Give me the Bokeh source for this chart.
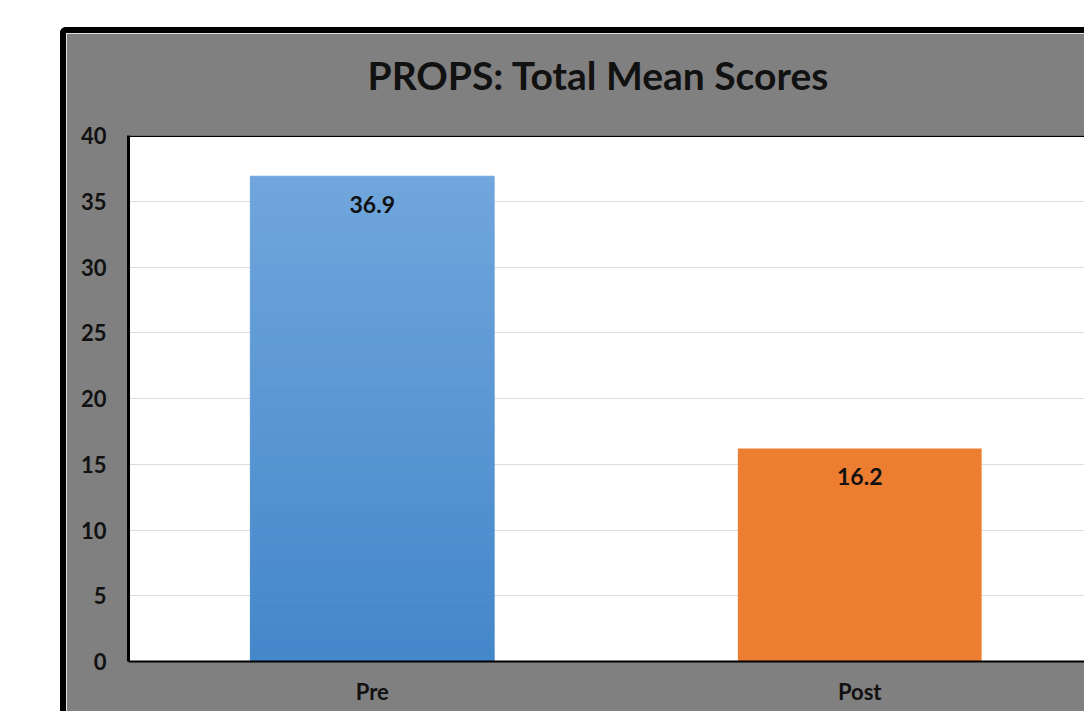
from bokeh.plotting import figure
from bokeh.models import Range1d, FixedTicker, Span, ColumnDataSource, Title
from bokeh.core.properties import value
from bokeh.embed import file_html
from bokeh.resources import INLINE

# ---- data ----
categories = ["Pre", "Post"]
means = [36.9, 16.2]
value_labels = ["36.9", "16.2"]
y_ticks = [0, 5, 10, 15, 20, 25, 30, 35, 40]
title_text = "PROPS: Total Mean Scores"

FONT = "Lato"
GRAY = "#808080"

x_pos = [i + 0.5 for i in range(len(categories))]

p = figure(width=1024, height=684, output_backend="svg", toolbar_location=None,
           x_range=Range1d(0, 1.9733), y_range=Range1d(0, 40),
           min_border_left=62, min_border_right=0, min_border_top=102,
           min_border_bottom=56)
p.margin = (27, 0, 0, 60)
p.styles = {"border-top": "6px solid black", "border-left": "6px solid black",
            "border-top-left-radius": "6px"}
p.border_fill_color = GRAY
p.background_fill_color = "white"
p.outline_line_color = None

# spacer between frame and title, then the title itself
p.title = None
p.add_layout(Title(text=" ", text_font_size="26px", standoff=6,
                   border_line_color=None), "above")
p.add_layout(Title(text=title_text, align="left", offset=239, text_font=FONT,
                   text_font_size="39px", text_font_style="bold",
                   text_color="#111111", standoff=0), "above")

# Pre bar: vertical gradient built from strips of the bar's value
def lerp(c1, c2, t):
    a = [int(c1[i:i + 2], 16) for i in (1, 3, 5)]
    b = [int(c2[i:i + 2], 16) for i in (1, 3, 5)]
    return "#%02x%02x%02x" % tuple(round(a[k] + (b[k] - a[k]) * t) for k in range(3))

n = 80
strip_b, strip_t, strip_c = [], [], []
for i in range(n):
    strip_b.append(means[0] * i / n)
    strip_t.append(means[0] * (i + 1) / n)
    strip_c.append(lerp("#4487ca", "#70a6dc", (i + 0.5) / n))
p.quad(left=[x_pos[0] - 0.25] * n, right=[x_pos[0] + 0.25] * n,
       bottom=strip_b, top=strip_t, fill_color=strip_c, line_color=strip_c,
       line_width=1)

# Post bar
p.vbar(x=[x_pos[1]], top=[means[1]], width=0.5, fill_color="#ed7d31", line_color=None)

src = ColumnDataSource(dict(x=x_pos, y=means, t=value_labels))
p.text(x="x", y="y", text="t", source=src, text_align="center", text_baseline="middle",
       y_offset=28, text_font=value(FONT), text_font_size="23px",
       text_font_style="bold", text_color="#111111")

p.add_layout(Span(location=40, dimension="width", line_color="black", line_width=3))

p.xgrid.visible = False
p.ygrid.ticker = FixedTicker(ticks=y_ticks)
p.ygrid.grid_line_color = "#dcdde3"
p.ygrid.grid_line_width = 1

p.yaxis.ticker = FixedTicker(ticks=y_ticks)
p.yaxis.axis_line_color = "black"
p.yaxis.axis_line_width = 3
p.yaxis.major_tick_line_color = None
p.yaxis.minor_tick_line_color = None
p.yaxis.major_label_standoff = 16
p.yaxis.major_label_text_font = FONT
p.yaxis.major_label_text_font_size = "22px"
p.yaxis.major_label_text_font_style = "bold"
p.yaxis.major_label_text_color = "#111111"

p.xaxis.ticker = FixedTicker(ticks=x_pos)
p.xaxis.major_label_overrides = {x: c for x, c in zip(x_pos, categories)}
p.xaxis.axis_line_color = "black"
p.xaxis.axis_line_width = 2
p.xaxis.major_tick_line_color = None
p.xaxis.minor_tick_line_color = None
p.xaxis.major_label_standoff = 10
p.xaxis.major_label_text_font = FONT
p.xaxis.major_label_text_font_size = "22px"
p.xaxis.major_label_text_font_style = "bold"
p.xaxis.major_label_text_color = "#111111"

open("out.html", "w").write(file_html(p, INLINE))
